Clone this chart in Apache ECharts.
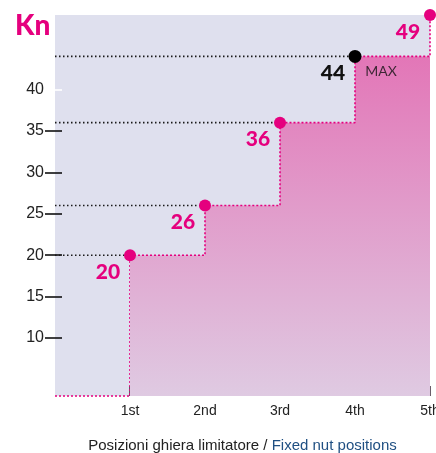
<!DOCTYPE html>
<html>
<head>
<meta charset="utf-8">
<script src="https://cdn.jsdelivr.net/npm/echarts@6/dist/echarts.min.js"></script>
<style>
  html, body { margin: 0; padding: 0; background: #ffffff; }
  #chart { width: 436px; height: 453px; }
</style>
</head>
<body>
<div id="chart"></div>
<script>
// Load (kN) reached at each limiter nut position
const positionLabels = ['1st', '2nd', '3rd', '4th', '5th'];
const positions = [1, 2, 3, 4, 5];
const loadValues = [20, 26, 36, 44, 49];
const maxPositionLabel = '4th';
const yTickValues = [10, 15, 20, 25, 30, 35];
const yTopTickValues = [40];

const Y_MIN = 3;
const Y_MAX = 49;
const MAGENTA = '#e5007e';
const PLAIN = "'Liberation Sans', Arial, sans-serif";
const ROUND = "Lato, 'Noto Sans', sans-serif";

const maxIndex = positionLabels.indexOf(maxPositionLabel);
const pts = positions.map((p, i) => [p, loadValues[i]]);

// Step outline with filled area and the value markers
const stepSeries = {
  type: 'line',
  step: 'end',
  z: 5,
  data: pts.map((pt, i) => ({
    value: pt,
    symbolSize: i === maxIndex ? 13 : 12,
    itemStyle: { color: i === maxIndex ? '#000000' : MAGENTA },
    label: { color: i === maxIndex ? '#111111' : MAGENTA }
  })),
  symbol: 'circle',
  showAllSymbol: true,
  lineStyle: { color: MAGENTA, width: 1.6, type: [2, 2] },
  areaStyle: {
    opacity: 1,
    color: new echarts.graphic.LinearGradient(0, 0, 0, 1, [
      { offset: 0, color: '#e36cb2' },
      { offset: 1, color: '#dfcae2' }
    ])
  },
  label: {
    show: true,
    position: 'inside',
    offset: [-22, 17],
    fontFamily: ROUND,
    fontWeight: 900,
    fontSize: 21,
    formatter: (p) => String(p.value[1])
  },
  clip: false
};

// Dotted edge along the bottom and left of the filled area
const edgeSeries = {
  type: 'line',
  z: 4,
  symbol: 'none',
  clip: false,
  silent: true,
  lineStyle: { color: MAGENTA, width: 1.6, type: [2, 2] },
  data: [[0, Y_MIN], [positions[0], Y_MIN], [positions[0], loadValues[0]]]
};

// Black dotted guides from the axis to each reached level
const guideSeries = pts.slice(0, pts.length - 1).map((pt) => ({
  type: 'line',
  z: 3,
  symbol: 'none',
  silent: true,
  lineStyle: { color: '#1a1a1a', width: 1.6, type: [1.5, 2.5] },
  data: [[0, pt[1]], pt]
}));

// "MAX" note beside the peak working level
const maxNote = {
  type: 'scatter',
  z: 6,
  symbolSize: 0,
  data: [pts[maxIndex]],
  label: {
    show: true,
    position: 'inside',
    offset: [26, 15],
    formatter: 'MAX',
    color: '#111111',
    fontFamily: ROUND,
    fontSize: 14
  }
};

const yAxisBase = {
  type: 'value',
  min: Y_MIN,
  max: Y_MAX,
  position: 'left',
  offset: -7,
  axisLine: { show: false },
  splitLine: { show: false }
};

const chart = echarts.init(document.getElementById('chart'), null, { renderer: 'canvas' });
chart.setOption({
  animation: false,
  backgroundColor: '#ffffff',
  title: {
    text: 'Kn',
    left: 15,
    top: 12,
    padding: 0,
    textStyle: { color: MAGENTA, fontFamily: ROUND, fontWeight: 900, fontSize: 28 }
  },
  grid: {
    left: 55,
    right: 6,
    top: 15,
    bottom: 57,
    containLabel: false,
    outerBoundsMode: 'none',
    show: true,
    backgroundColor: '#dfe0ee',
    borderWidth: 0
  },
  xAxis: {
    type: 'value',
    min: 0,
    max: 5,
    axisLine: { show: false },
    splitLine: { show: false },
    axisTick: {
      show: true,
      inside: true,
      length: 10,
      customValues: positions,
      lineStyle: { color: '#3a2a3a', width: 1.5 }
    },
    axisLabel: {
      customValues: positions,
      margin: 8,
      color: '#222222',
      fontFamily: PLAIN,
      fontSize: 14,
      formatter: (v) => positionLabels[positions.indexOf(v)] || ''
    },
    name: '{a|Posizioni ghiera limitatore / }{b|Fixed nut positions}',
    nameLocation: 'middle',
    nameGap: 42,
    nameTextStyle: {
      rich: {
        a: { color: '#222222', fontFamily: PLAIN, fontSize: 15 },
        b: { color: '#1f4f82', fontFamily: PLAIN, fontSize: 15 }
      }
    }
  },
  yAxis: [
    Object.assign({}, yAxisBase, {
      axisTick: {
        show: true,
        length: 17,
        customValues: yTickValues,
        lineStyle: { color: '#111111', width: 1.6 }
      },
      axisLabel: {
        customValues: yTickValues,
        margin: 18,
        color: '#222222',
        fontFamily: PLAIN,
        fontSize: 16
      }
    }),
    Object.assign({}, yAxisBase, {
      axisTick: {
        show: true,
        length: 7,
        customValues: yTopTickValues,
        lineStyle: { color: '#ffffff', width: 1.6 }
      },
      axisLabel: {
        customValues: yTopTickValues,
        margin: 18,
        color: '#222222',
        fontFamily: PLAIN,
        fontSize: 16
      }
    })
  ],
  series: [edgeSeries].concat(guideSeries, [stepSeries, maxNote])
});
</script>
</body>
</html>
